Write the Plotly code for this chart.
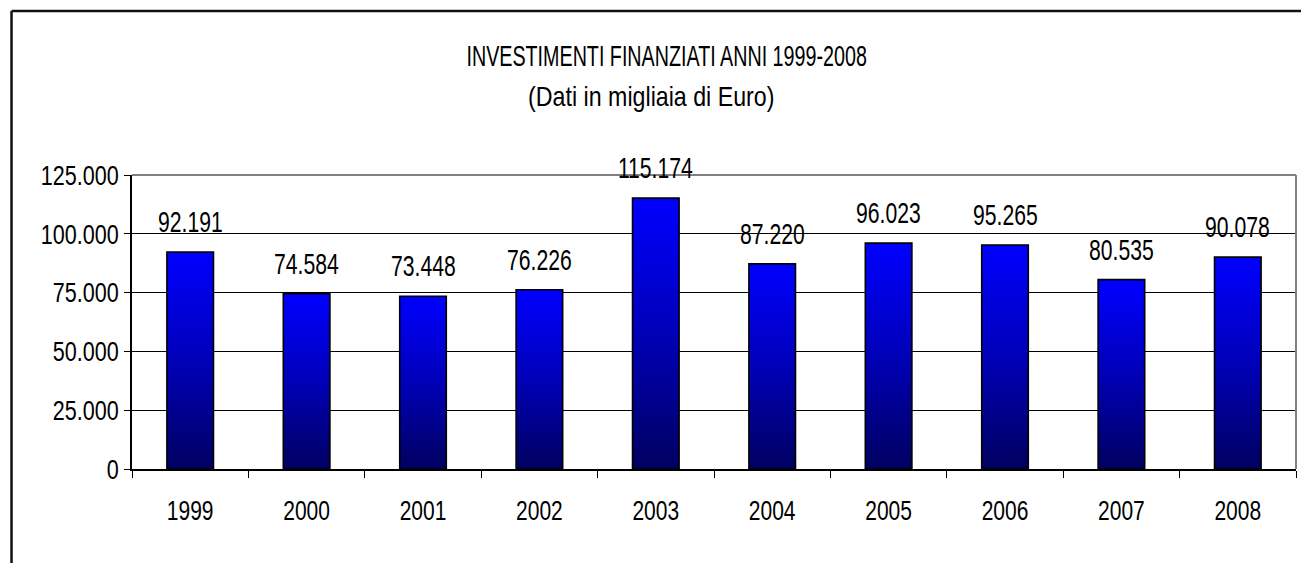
import plotly.graph_objects as go

# Investimenti finanziati per anno (migliaia di Euro)
anni = ["1999", "2000", "2001", "2002", "2003", "2004", "2005", "2006", "2007", "2008"]
investimenti = [92191, 74584, 73448, 76226, 115174, 87220, 96023, 95265, 80535, 90078]

y_ticks = [0, 25000, 50000, 75000, 100000, 125000]

titolo = "INVESTIMENTI FINANZIATI ANNI 1999-2008"
sottotitolo = "(Dati in migliaia di Euro)"

FONT = "Liberation Sans, Arial, sans-serif"
BAR_HALF = 0.2  # half bar width in category units


def fmt(v):
    return f"{v:,}".replace(",", ".")


fig = go.Figure()

# Each bar is a filled rectangle with a vertical navy-to-blue gradient
for i, (anno, val) in enumerate(zip(anni, investimenti)):
    fig.add_trace(go.Scatter(
        x=[i - BAR_HALF, i - BAR_HALF, i + BAR_HALF, i + BAR_HALF, i - BAR_HALF],
        y=[0, val, val, 0, 0],
        mode="lines",
        fill="toself",
        fillgradient=dict(type="vertical",
                          colorscale=[[0, "#000060"], [0.5, "#0000B8"], [1, "#0000FF"]]),
        line=dict(color="#000000", width=1.6),
        hoverinfo="text",
        hovertext=f"{anno}: {fmt(val)}",
        showlegend=False,
    ))
    # value label above the bar
    fig.add_annotation(
        x=i, y=val, xref="x", yref="y",
        text=fmt(val),
        showarrow=False, yanchor="middle", yshift=30,
        font=dict(family=FONT, size=29, color="#000000"),
    )

fig.update_xaxes(
    range=[-0.5, len(anni) - 0.5],
    tickmode="array", tickvals=list(range(len(anni))), ticktext=anni,
    ticks="", ticklabelstandoff=16,
    minor=dict(tickmode="array", tickvals=[k - 0.5 for k in range(len(anni) + 1)],
               ticks="outside", ticklen=7, tickcolor="#000000", tickwidth=1),
    showgrid=False, zeroline=False,
    showline=True, linecolor="#000000", linewidth=1.5,
    tickfont=dict(family=FONT, size=28, color="#000000"),
    fixedrange=True,
)
fig.update_yaxes(
    range=[0, 125000],
    tickmode="array", tickvals=y_ticks,
    tickformat=",d",
    ticks="outside", ticklen=6, tickcolor="#000000", tickwidth=1,
    showgrid=True, gridcolor="#000000", gridwidth=1,
    zeroline=False,
    showline=True, linecolor="#000000", linewidth=1.5,
    tickfont=dict(family=FONT, size=28, color="#000000"),
    fixedrange=True,
)

# grey frame on the top and right of the plot area
fig.add_shape(type="line", xref="paper", yref="paper", x0=0, x1=1, y0=1, y1=1,
              line=dict(color="#808080", width=2))
fig.add_shape(type="line", xref="paper", yref="paper", x0=1, x1=1, y0=0, y1=1,
              line=dict(color="#808080", width=2))

# outer chart border (left and top)
fig.add_shape(type="line", xref="paper", yref="paper",
              x0=-0.1035, x1=-0.1035, y0=-0.4, y1=1.558,
              line=dict(color="#111111", width=2.5))
fig.add_shape(type="line", xref="paper", yref="paper",
              x0=-0.1035, x1=1.01, y0=1.558, y1=1.558,
              line=dict(color="#111111", width=2.5))

# two-line title
fig.add_annotation(x=(666 - 132) / 1164, y=(469 - 56) / 294, xref="paper", yref="paper",
                   text=titolo, showarrow=False,
                   xanchor="center", yanchor="middle",
                   font=dict(family=FONT, size=29, color="#000000"))
fig.add_annotation(x=(651 - 132) / 1164, y=(469 - 97) / 294, xref="paper", yref="paper",
                   text=sottotitolo, showarrow=False,
                   xanchor="center", yanchor="middle",
                   font=dict(family=FONT, size=27, color="#000000"))

fig.update_layout(
    width=1301, height=563,
    margin=dict(l=132, r=5, t=175, b=94),
    paper_bgcolor="#FFFFFF", plot_bgcolor="#FFFFFF",
    separators=",.",
    showlegend=False,
    font=dict(family=FONT, color="#000000"),
)

# Narrow (condensed) lettering: squeeze each text horizontally about its anchor point
n_labels = len(anni)
condense_js = """
var gd = document.getElementById('{plot_id}');
function squeeze(sel, s) {
  gd.querySelectorAll(sel).forEach(function (t) {
    var tag = 'scale(' + s + ',1)';
    var tr = t.getAttribute('transform') || '';
    if (tr.indexOf(tag) !== -1) return;
    var x = parseFloat(t.getAttribute('x')) || 0;
    t.setAttribute('transform', tr + ' translate(' + x + ',0) ' + tag + ' translate(' + (-x) + ',0)');
  });
}
function condenseAll() {
  squeeze('.xtick text', 0.75);
  squeeze('.ytick text', 0.77);
  for (var k = 0; k < N_LABELS; k++) {
    squeeze('.annotation[data-index="' + k + '"] text', 0.73);
  }
  squeeze('.annotation[data-index="' + N_LABELS + '"] text', 0.68);
  squeeze('.annotation[data-index="' + (N_LABELS + 1) + '"] text', 0.86);
}
condenseAll();
gd.on('plotly_afterplot', condenseAll);
setTimeout(condenseAll, 300);
""".replace("N_LABELS", str(n_labels))

fig.write_html("out.html", config={"displayModeBar": False}, post_script=condense_js)
